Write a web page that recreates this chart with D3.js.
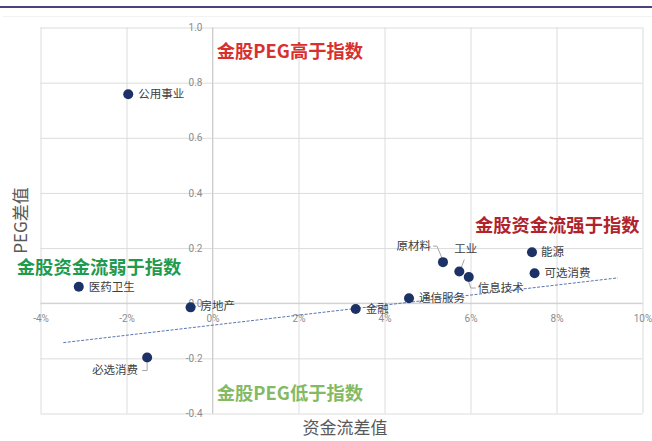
<!DOCTYPE html>
<html>
<head>
<meta charset="utf-8">
<script src="https://cdn.jsdelivr.net/npm/d3@7/dist/d3.min.js"></script>
<style>
  html, body { margin: 0; padding: 0; background: #ffffff; }
  svg { display: block; font-family: "Noto Sans CJK SC", "Noto Sans", sans-serif; }
</style>
</head>
<body>
<svg id="chart" width="652" height="441"></svg>
<script>
// Sector fund-flow difference (%) vs PEG difference
const sectors      = ["公用事业", "医药卫生", "房地产", "必选消费", "金融", "通信服务", "原材料", "工业", "信息技术", "能源", "可选消费"];
const fundFlowDiff = [-1.96, -3.11, -0.51, -1.52, 3.33, 4.57, 5.36, 5.74, 5.96, 7.43, 7.49];
const pegDiff      = [0.758, 0.060, -0.015, -0.197, -0.021, 0.018, 0.149, 0.115, 0.095, 0.185, 0.109];

// Trend line end points
const trendX = [-3.47, 9.43];
const trendY = [-0.143, 0.092];

// Axis ticks
const xTicks = [-4, -2, 0, 2, 4, 6, 8, 10];
const yTicks = [-0.4, -0.2, 0.0, 0.2, 0.4, 0.6, 0.8, 1.0];
const xTickLabels = ["-4%", "-2%", "0%", "2%", "4%", "6%", "8%", "10%"];
const yTickLabels = ["-0.4", "-0.2", "0.0", "0.2", "0.4", "0.6", "0.8", "1.0"];

const svg = d3.select("#chart");
const plot = { left: 40.5, right: 642.5, top: 27.5, bottom: 413.5 };

const x = d3.scaleLinear().domain([-4, 10]).range([plot.left, plot.right]);
const y = d3.scaleLinear().domain([-0.4, 1.0]).range([plot.bottom, plot.top]);

// header rule
svg.append("rect").attr("x", 0).attr("y", 6).attr("width", 652).attr("height", 2).attr("fill", "#4b4284");
svg.append("line").attr("x1", 3).attr("x2", 652).attr("y1", 16.5).attr("y2", 16.5)
  .attr("stroke", "#f2f2f2").attr("stroke-width", 1);

// grid
const gridX = svg.append("g").attr("transform", `translate(0,${plot.bottom})`)
  .call(d3.axisBottom(x).tickValues(xTicks).tickSize(-(plot.bottom - plot.top)).tickFormat(""));
const gridY = svg.append("g").attr("transform", `translate(${plot.left},0)`)
  .call(d3.axisLeft(y).tickValues(yTicks).tickSize(-(plot.right - plot.left)).tickFormat(""));
[gridX, gridY].forEach(g => {
  g.select(".domain").remove();
  g.selectAll(".tick line").attr("stroke", "#dcdcdc").attr("stroke-width", 1);
});

// zero axes
svg.append("line").attr("x1", plot.left).attr("x2", plot.right).attr("y1", y(0)).attr("y2", y(0))
  .attr("stroke", "#cccccc").attr("stroke-width", 1);
svg.append("line").attr("x1", x(0)).attr("x2", x(0)).attr("y1", plot.top).attr("y2", plot.bottom)
  .attr("stroke", "#cccccc").attr("stroke-width", 1);

// tick labels along the zero lines
const xAxis = svg.append("g").attr("transform", `translate(0,${y(0)})`)
  .call(d3.axisBottom(x).tickValues(xTicks).tickSize(0).tickPadding(12)
    .tickFormat((d, i) => xTickLabels[i]));
const yAxis = svg.append("g").attr("transform", `translate(${x(0)},0)`)
  .call(d3.axisLeft(y).tickValues(yTicks).tickSize(0).tickPadding(10)
    .tickFormat((d, i) => yTickLabels[i]));
[xAxis, yAxis].forEach(g => {
  g.select(".domain").remove();
  g.selectAll("text").attr("fill", "#8c8c8c").style("font-size", "10px")
    .style("font-family", "Roboto, 'Noto Sans', sans-serif");
});

// trend line
svg.append("line")
  .attr("x1", x(trendX[0])).attr("y1", y(trendY[0]))
  .attr("x2", x(trendX[1])).attr("y2", y(trendY[1]))
  .attr("stroke", "#5a78b0").attr("stroke-width", 1).attr("stroke-dasharray", "3,1.5");

// label placement per sector (pixel offsets from the point)
const placement = {
  "公用事业": { dx: 10, dy: 0, anchor: "start" },
  "医药卫生": { dx: 10, dy: 0, anchor: "start" },
  "房地产":   { dx: 10, dy: -1, anchor: "start" },
  "必选消费": { dx: -9, dy: 12, anchor: "end", leader: [[0, 5], [0, 13], [-5, 13]] },
  "金融":     { dx: 10, dy: 0, anchor: "start" },
  "通信服务": { dx: 10, dy: 0, anchor: "start" },
  "原材料":   { dx: -12, dy: -16, anchor: "end", leader: [[-1, -4], [-6, -16], [-10, -16]] },
  "工业":     { dx: -5, dy: -23, anchor: "start", leader: [[2, -4], [5, -12]] },
  "信息技术": { dx: 9, dy: 11, anchor: "start", leader: [[0, 5], [2, 11], [7, 11]] },
  "能源":     { dx: 9, dy: 0, anchor: "start" },
  "可选消费": { dx: 10, dy: 0, anchor: "start" }
};

const pts = sectors.map((s, i) => ({ name: s, fx: fundFlowDiff[i], py: pegDiff[i] }));

// leader lines
const leaders = pts.filter(p => placement[p.name].leader);
svg.append("g").selectAll("polyline").data(leaders).join("polyline")
  .attr("points", p => placement[p.name].leader
    .map(([dx, dy]) => `${x(p.fx) + dx},${y(p.py) + dy}`).join(" "))
  .attr("fill", "none").attr("stroke", "#a6a6a6").attr("stroke-width", 1);

// points
svg.append("g").selectAll("circle").data(pts).join("circle")
  .attr("cx", p => x(p.fx)).attr("cy", p => y(p.py)).attr("r", 5)
  .attr("fill", "#1c3166");

// point labels
svg.append("g").selectAll("text").data(pts).join("text")
  .attr("x", p => x(p.fx) + placement[p.name].dx)
  .attr("y", p => y(p.py) + placement[p.name].dy)
  .attr("dy", "0.35em")
  .attr("text-anchor", p => placement[p.name].anchor)
  .attr("fill", "#404040").style("font-size", "11.5px")
  .text(p => p.name);

// quadrant notes
const notes = [
  { text: "金股PEG高于指数",   fx: 0.1,  py: 0.912, color: "#d8302f", anchor: "start" },
  { text: "金股资金流强于指数", fx: 9.93, py: 0.282, color: "#b0232b", anchor: "end" },
  { text: "金股资金流弱于指数", fx: -4.55, py: 0.131, color: "#1f9a4e", anchor: "start" },
  { text: "金股PEG低于指数",   fx: 0.1,  py: -0.326, color: "#84ba63", anchor: "start" }
];
svg.append("g").selectAll("text").data(notes).join("text")
  .attr("x", d => x(d.fx)).attr("y", d => y(d.py)).attr("dy", "0.35em")
  .attr("text-anchor", d => d.anchor)
  .attr("fill", d => d.color).style("font-size", "18.3px").style("font-weight", 700)
  .text(d => d.text);

// axis titles
svg.append("text").attr("x", 345).attr("y", 428).attr("dy", "0.35em")
  .attr("text-anchor", "middle").attr("fill", "#595959").style("font-size", "17px")
  .text("资金流差值");
svg.append("text").attr("transform", `translate(21,${(plot.top + plot.bottom) / 2}) rotate(-90)`)
  .attr("dy", "0.35em").attr("text-anchor", "middle").attr("fill", "#595959").style("font-size", "17px")
  .text("PEG差值");
</script>
</body>
</html>
